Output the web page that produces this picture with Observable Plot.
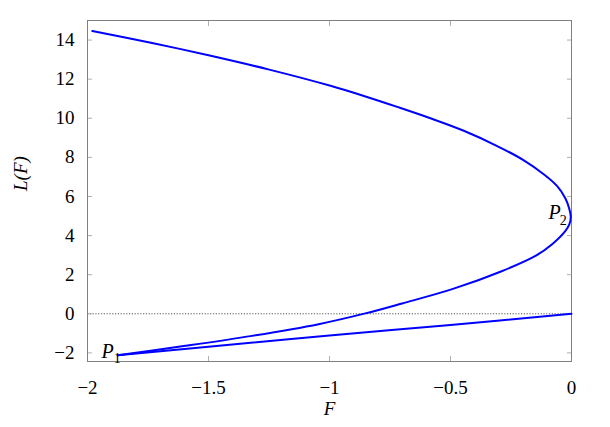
<!DOCTYPE html>
<html>
<head>
<meta charset="utf-8">
<script src="https://cdn.jsdelivr.net/npm/d3@7"></script>
<script src="https://cdn.jsdelivr.net/npm/@observablehq/plot@0.6"></script>
<style>
  html, body { margin: 0; padding: 0; background: #fff; }
</style>
</head>
<body>
<div id="chart"></div>
<script>
// Lower branch: from the origin to the cusp P1
const lowerF = [0, -0.5, -1.0, -1.5, -1.875];
const lowerL = [0, -0.57, -1.11, -1.69, -2.12];

// Upper branch: from the cusp P1, round P2, up to the top-left end
const upperF = [-1.875, -1.595, -1.32, -1.045, -0.852, -0.7, -0.493, -0.286, -0.149, -0.08, -0.025, -0.009, -0.003,
                -0.009, -0.025, -0.06, -0.115, -0.197, -0.307, -0.445, -0.583, -0.72, -0.858, -0.996, -1.253, -1.5, -1.733, -1.98];
const upperL = [-2.12, -1.64, -1.13, -0.53, 0.02, 0.53, 1.26, 2.19, 2.96, 3.56, 4.24, 4.57, 4.95,
                5.36, 5.9, 6.54, 7.14, 7.85, 8.58, 9.36, 10.0, 10.58, 11.14, 11.66, 12.5, 13.22, 13.85, 14.46];

const xTicks = [-2, -1.5, -1, -0.5, 0];
const yTicks = [-2, 0, 2, 4, 6, 8, 10, 12, 14];

const lower = lowerF.map((f, i) => ({F: f, L: lowerL[i]}));
const upper = upperF.map((f, i) => ({F: f, L: upperL[i]}));
const p1 = [{F: lowerF[lowerF.length - 1], L: lowerL[lowerL.length - 1]}];
const p2 = [{F: upperF[12], L: upperL[12]}];

const fmt = d3.format("~g");
const font = "Liberation Serif, Times New Roman, serif";
const tickColor = "#b0b0b0";
const blue = "#0000ff";

const chart = Plot.plot({
  width: 610,
  height: 427,
  marginLeft: 87,
  marginRight: 39,
  marginTop: 20,
  marginBottom: 66,
  x: {domain: [-2, 0], label: null},
  y: {domain: [-2.44, 15], label: null},
  style: {fontFamily: font, fontSize: "19px", background: "#fff", color: "#000"},
  marks: [
    // dotted zero axes
    Plot.ruleY([0], {stroke: "#555", strokeDasharray: "1.2,1.6", strokeWidth: 1}),
    Plot.ruleX([0], {stroke: "#555", strokeDasharray: "1.2,1.6", strokeWidth: 1}),
    // inward ticks on all four sides
    Plot.axisX(xTicks, {anchor: "bottom", tickSize: 5, dy: -5, fill: "none", stroke: tickColor, label: null}),
    Plot.axisX(xTicks, {anchor: "top", tickSize: 5, dy: 5, fill: "none", stroke: tickColor, label: null}),
    Plot.axisY(yTicks, {anchor: "left", tickSize: 5, dx: 5, fill: "none", stroke: tickColor, label: null}),
    Plot.axisY(yTicks, {anchor: "right", tickSize: 5, dx: -5, fill: "none", stroke: tickColor, label: null}),
    // tick labels
    Plot.axisX(xTicks, {anchor: "bottom", tickSize: 0, tickPadding: 19, tickFormat: fmt, stroke: "none", label: null, fontSize: 19}),
    Plot.axisY(yTicks, {anchor: "left", tickSize: 0, tickPadding: 13, tickFormat: fmt, stroke: "none", label: null, fontSize: 19}),
    // frame
    Plot.frame({stroke: "#808080", strokeWidth: 1}),
    // curve
    Plot.line(lower, {x: "F", y: "L", stroke: blue, strokeWidth: 2, curve: "catmull-rom"}),
    Plot.line(upper, {x: "F", y: "L", stroke: blue, strokeWidth: 2, curve: "catmull-rom"}),
    // point labels
    Plot.text(p1, {x: "F", y: "L", text: () => "P", fontStyle: "italic", fontSize: 20, textAnchor: "end", lineAnchor: "bottom", dx: -4, dy: 3}),
    Plot.text(p1, {x: "F", y: "L", text: () => "1", fontSize: 14, textAnchor: "start", lineAnchor: "bottom", dx: -4, dy: 8}),
    Plot.text(p2, {x: "F", y: "L", text: () => "P", fontStyle: "italic", fontSize: 20, textAnchor: "end", lineAnchor: "bottom", dx: -10, dy: 2}),
    Plot.text(p2, {x: "F", y: "L", text: () => "2", fontSize: 14, textAnchor: "start", lineAnchor: "bottom", dx: -11, dy: 8}),
    // axis titles
    Plot.text(["L(F)"], {frameAnchor: "left", dx: -67, rotate: -90, fontStyle: "italic", fontSize: 19}),
    Plot.text(["F"], {frameAnchor: "bottom", dy: 53, fontStyle: "italic", fontSize: 19})
  ]
});

document.getElementById("chart").appendChild(chart);
// force text layout so the local serif font is resolved before the snapshot
chart.querySelectorAll("text").forEach((t) => t.getBBox());
</script>
</body>
</html>
